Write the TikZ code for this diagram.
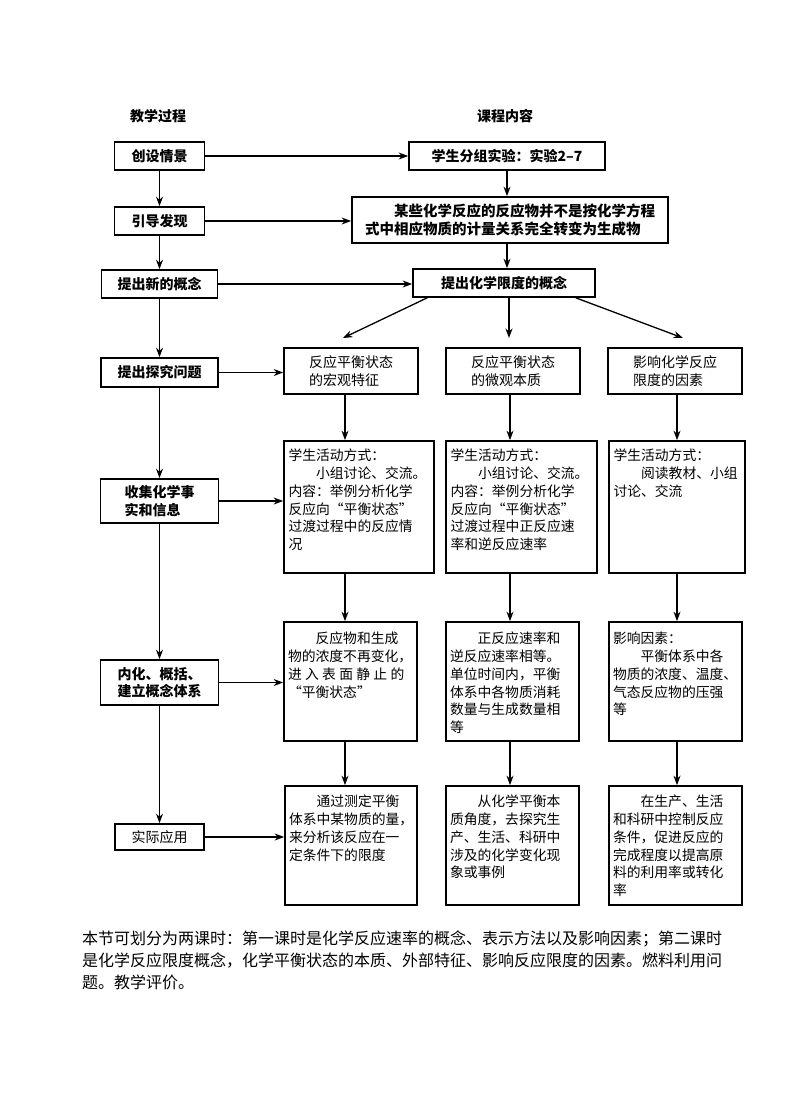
\documentclass[tikz,border=0pt]{standalone}
\usepackage{fontspec}
\setmainfont{Noto Sans CJK SC}
\usetikzlibrary{arrows.meta,calc}
\newcommand{\tbox}[3]{\parbox[c][#2][t]{#1}{\fontsize{13.8pt}{17.8pt}\selectfont #3}}
\newcommand{\oq}{{\addfontfeature{CharacterWidth=Full}“}}
\newcommand{\cq}{{\addfontfeature{CharacterWidth=Full}”}}
\newcommand{\ind}{\hspace*{2em}}
\begin{document}
\begin{tikzpicture}[x=1pt,y=-1pt,
  bx/.style={draw, line width=1.7pt, inner sep=0pt, align=center, font=\fontsize{14pt}{17.6pt}\selectfont},
  bb/.style={bx, font=\fontsize{14pt}{17.6pt}\selectfont\bfseries},
  arr/.style={line width=1.3pt, -{Stealth[length=9.5pt,width=7pt]}},
  hd/.style={font=\fontsize{14pt}{17pt}\selectfont\bfseries}
]
\useasboundingbox (0,0) rectangle (800,1108);

% headers
\node[hd] (h1) at (158,116) {教学过程};
\node[hd] (h2) at (505,116) {课程内容};

% left column
\node[bb, minimum width=90pt, minimum height=28pt] (c1) at (159.5,156) {创设情景};
\node[bb, minimum width=90pt, minimum height=28pt] (c2) at (159.5,221) {引导发现};
\node[bb, minimum width=116pt, minimum height=28pt] (c3) at (159.5,284) {提出新的概念};
\node[bb, minimum width=117pt, minimum height=29pt] (c4) at (159.5,372.5) {提出探究问题};
\node[bb, minimum width=118pt, minimum height=44pt, align=left] (c5) at (159.5,501) {收集化学事\\实和信息};
\node[bb, minimum width=118pt, minimum height=45pt, align=left] (c6) at (159.5,682.5) {内化、概括、\\建立概念体系};
\node[bx, minimum width=89pt, minimum height=26pt] (c7) at (159.5,837) {实际应用};

% right top
\node[bb, minimum width=196pt, minimum height=28pt] (r1) at (507,156) {学生分组实验：实验2–7};
\node[bb, minimum width=316pt, minimum height=46pt, align=left, font=\fontsize{14.5pt}{17.6pt}\selectfont\bfseries] (r2) at (510,220) {\hspace*{2em}某些化学反应的反应物并不是按化学方程\\式中相应物质的计量关系完全转变为生成物};
\node[bb, minimum width=182pt, minimum height=28pt] (r3) at (504,283) {提出化学限度的概念};

% row 2
\node[bx, minimum width=134pt, minimum height=46pt, align=left, font=\fontsize{14pt}{18.3pt}\selectfont] (a2) at (351,371) {反应平衡状态\\的宏观特征};
\node[bx, minimum width=134pt, minimum height=46pt, align=left, font=\fontsize{14pt}{18.3pt}\selectfont] (b2) at (513,371) {反应平衡状态\\的微观本质};
\node[bx, minimum width=134pt, minimum height=46pt, align=left, font=\fontsize{14pt}{18.3pt}\selectfont] (d2) at (675,371) {影响化学反应\\限度的因素};

% row 3
\node[bx, minimum width=150pt, minimum height=132pt] (a3) at (359,507) {\tbox{141pt}{116pt}{学生活动方式：\\
\ind 小组讨论、交流。\\
内容：举例分析化学\\
反应向\oq 平衡状态\cq\\
过渡过程中的反应情\\
况}};
\node[bx, minimum width=151pt, minimum height=132pt] (b3) at (521.5,507) {\tbox{142pt}{116pt}{学生活动方式：\\
\ind 小组讨论、交流。\\
内容：举例分析化学\\
反应向\oq 平衡状态\cq\\
过渡过程中正反应速\\
率和逆反应速率}};
\node[bx, minimum width=136pt, minimum height=132pt] (d3) at (677,507) {\tbox{127pt}{116pt}{学生活动方式：\\
\ind 阅读教材、小组\\
讨论、交流}};

% row 4
\node[bx, minimum width=133pt, minimum height=119pt] (a4) at (350.5,681.5) {\tbox{125pt}{99pt}{\ind 反应物和生成\\
物的浓度不再变化，\\
进\hspace{3.3pt}入\hspace{3.3pt}表\hspace{3.3pt}面\hspace{3.3pt}静\hspace{3.3pt}止\hspace{3.3pt}的\\
\oq 平衡状态\cq}};
\node[bx, minimum width=133pt, minimum height=119pt] (b4) at (512.5,681.5) {\tbox{125pt}{99pt}{\ind 正反应速率和\\
逆反应速率相等。\\
单位时间内，平衡\\
体系中各物质消耗\\
数量与生成数量相\\
等}};
\node[bx, minimum width=133pt, minimum height=119pt] (d4) at (675.5,681.5) {\tbox{125pt}{99pt}{影响因素：\\
\ind 平衡体系中各\\
物质的浓度、温度、\\
气态反应物的压强\\
等}};

% row 5
\node[bx, minimum width=132pt, minimum height=119pt] (a5) at (351,845.5) {\tbox{124pt}{101pt}{\ind 通过测定平衡\\
体系中某物质的量，\\
来分析该反应在一\\
定条件下的限度}};
\node[bx, minimum width=133pt, minimum height=119pt] (b5) at (512.5,845.5) {\tbox{125pt}{101pt}{\ind 从化学平衡本\\
质角度，去探究生\\
产、生活、科研中\\
涉及的化学变化现\\
象或事例}};
\node[bx, minimum width=133pt, minimum height=119pt] (d5) at (675.5,845.5) {\tbox{125pt}{101pt}{\ind 在生产、生活\\
和科研中控制反应\\
条件，促进反应的\\
完成程度以提高原\\
料的利用率或转化\\
率}};

% bottom paragraph
\node[anchor=north west, inner sep=0pt, align=left, font=\fontsize{16pt}{22pt}\selectfont] (para) at (82,931) {本节可划分为两课时：第一课时是化学反应速率的概念、表示方法以及影响因素；第二课时\\
是化学反应限度概念，化学平衡状态的本质、外部特征、影响反应限度的因素。燃料利用问\\
题。教学评价。};

% column x positions for vertical arrows
\coordinate (xa) at (345,0);
\coordinate (xb) at (510,0);
\coordinate (xd) at (677,0);
\coordinate (xr) at (507,0);

% left spine
\draw[arr] (c1.south) -- (c2.north);
\draw[arr] (c2.south) -- (c3.north);
\draw[arr] (c3.south) -- (c4.north);
\draw[arr] (c4.south) -- (c5.north);
\draw[arr] (c5.south) -- (c6.north);
\draw[arr] (c6.south) -- (c7.north);

% horizontal arrows
\draw[arr] (c1.east) -- (c1.east -| r1.west);
\draw[arr] (c2.east) -- (c2.east -| r2.west);
\draw[arr] (c3.east) -- (c3.east -| r3.west);
\draw[arr] (c4.east) -- (c4.east -| a2.west);
\draw[arr] (c5.east) -- (c5.east -| a3.west);
\draw[arr] (c6.east) -- (c6.east -| a4.west);
\draw[arr] (c7.east) -- (c7.east -| a5.west);

% right top vertical
\draw[arr] (r1.south -| xr) -- (r2.north -| xr);
\draw[arr] (r2.south -| xr) -- (r3.north -| xr);

% fan-out from r3
\coordinate (tipa) at (343,338);
\coordinate (tipb) at (509,338);
\coordinate (tipd) at (683,338);
\draw[arr] ($(r3.south west)+(15,0)$) -- (tipa);
\draw[arr] (r3.south -| tipb) -- (tipb);
\draw[arr] ($(r3.south east)+(-20,0)$) -- (tipd);

% column arrows
\draw[arr] (a2.south -| xa) -- (a3.north -| xa);
\draw[arr] (b2.south -| xb) -- (b3.north -| xb);
\draw[arr] (d2.south -| xd) -- (d3.north -| xd);
\draw[arr] (a3.south -| xa) -- (a4.north -| xa);
\draw[arr] (b3.south -| xb) -- (b4.north -| xb);
\draw[arr] (d3.south -| xd) -- (d4.north -| xd);
\draw[arr] (a4.south -| xa) -- (a5.north -| xa);
\draw[arr] (b4.south -| xb) -- (b5.north -| xb);
\draw[arr] (d4.south -| xd) -- (d5.north -| xd);
\end{tikzpicture}
\end{document}
